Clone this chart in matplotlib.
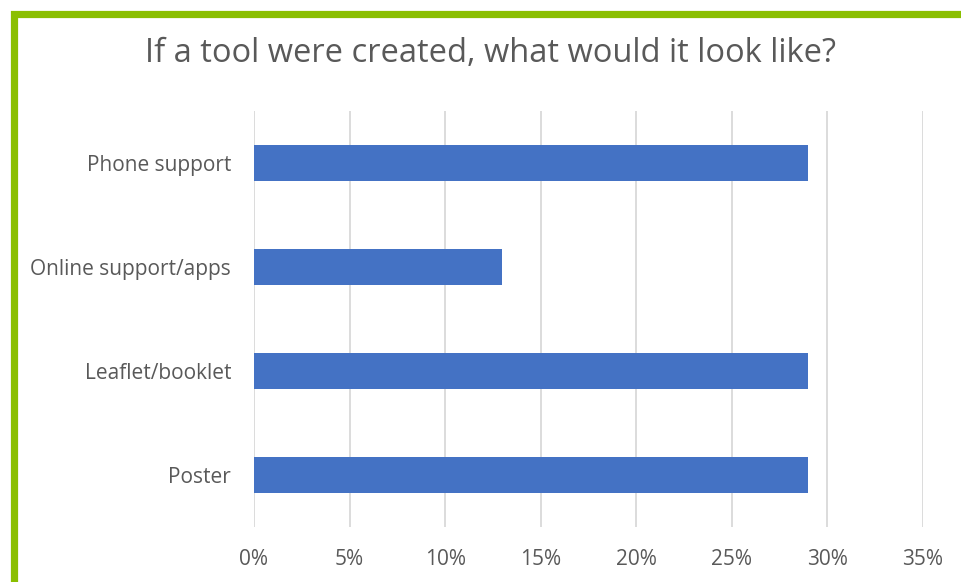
import matplotlib
matplotlib.use("Agg")
import matplotlib.pyplot as plt
from matplotlib.patches import Rectangle
from matplotlib.ticker import FuncFormatter

categories = ["Phone support", "Online support/apps", "Leaflet/booklet", "Poster"]
values = [0.29, 0.13, 0.29, 0.29]
x_ticks = [0, 0.05, 0.10, 0.15, 0.20, 0.25, 0.30, 0.35]
title = "If a tool were created, what would it look like?"

W, H = 962, 582
fig = plt.figure(figsize=(W / 100, H / 100), dpi=100)
fig.patch.set_facecolor("white")

# green frame running off the right and bottom edges
fig.patches.append(Rectangle((13.5 / W, -0.1), 1.2, (H - 13.5) / H + 0.1,
                             transform=fig.transFigure, fill=False,
                             edgecolor="#8ABF00", linewidth=5.2, zorder=0))

ax = fig.add_axes([254 / W, 1 - 527 / H, (923 - 254) / W, (527 - 111) / H])
ypos = list(range(len(categories)))
ax.barh(ypos, values, height=0.35, color="#4472C4", zorder=3)
ax.set_ylim(len(categories) - 0.5, -0.5)
ax.set_xlim(0, 0.35)
ax.set_xticks(x_ticks)
ax.xaxis.set_major_formatter(FuncFormatter(lambda v, p: f"{v * 100:.0f}%"))
ax.set_yticks(ypos)
ax.set_yticklabels(categories)
ax.grid(axis="x", color="#D9D9D9", linewidth=1.3, zorder=0)
for s in ax.spines.values():
    s.set_visible(False)
ax.tick_params(axis="both", length=0, labelsize=15, labelcolor="#595959")
ax.tick_params(axis="x", pad=16)
ax.tick_params(axis="y", pad=16.5)
for lab in ax.get_xticklabels() + ax.get_yticklabels():
    lab.set_family("Open Sans")

fig.text(491 / W, 1 - 54 / H, title, ha="center", va="center",
         fontsize=23.5, color="#595959", family="Open Sans")

fig.savefig("out.png", dpi=100)
